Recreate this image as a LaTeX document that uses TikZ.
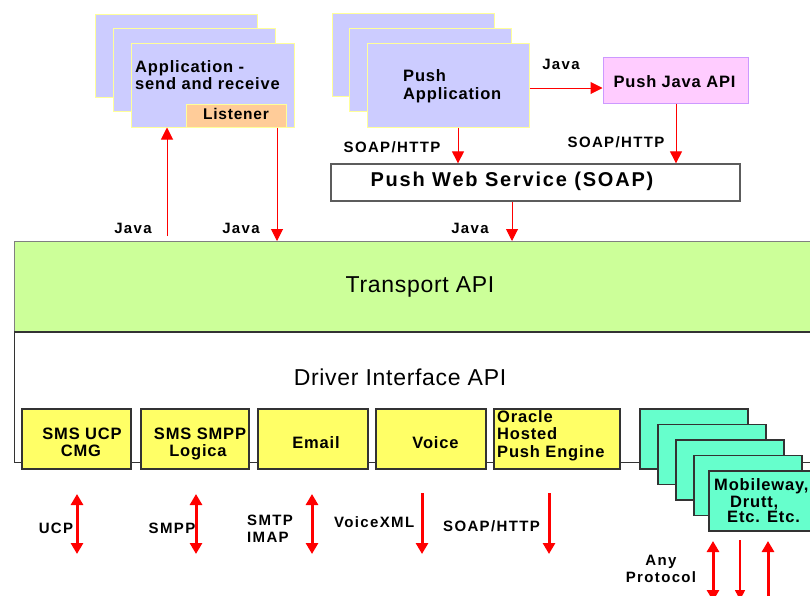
\documentclass[tikz,border=0pt]{standalone}
\usepackage{fontspec}
\setmainfont{Liberation Sans}
\newfontfamily\boxfont{Liberation Sans}[LetterSpace=5]
\newfontfamily\tagfont{Liberation Sans}[LetterSpace=9]
\newfontfamily\layerfont{Liberation Sans}[LetterSpace=3]
\newfontfamily\wsfont{Liberation Sans}[LetterSpace=9]
\usetikzlibrary{arrows.meta}
\definecolor{appfill}{HTML}{CCCCFF}
\definecolor{appedge}{HTML}{FFFF99}
\definecolor{listenfill}{HTML}{FFCC99}
\definecolor{apifill}{HTML}{FFCCFF}
\definecolor{apiedge}{HTML}{CC99FF}
\definecolor{transfill}{HTML}{CCFF99}
\definecolor{drvfill}{HTML}{FFFF66}
\definecolor{extfill}{HTML}{66FFCC}
\definecolor{edge}{HTML}{333333}
\definecolor{arrowred}{HTML}{FF0000}

\begin{document}
\begin{tikzpicture}[x=1pt,y=-1pt,
  appbox/.style={draw=appedge, fill=appfill, line width=1pt, minimum width=162pt, minimum height=83pt, inner sep=0pt},
  drvbox/.style={draw=edge, fill=drvfill, line width=1.3pt, minimum height=60pt, inner sep=0pt},
  extbox/.style={draw=edge, fill=extfill, line width=1.3pt, minimum width=108pt, minimum height=60pt, inner sep=0pt},
  boxtext/.style={font=\boxfont\bfseries\fontsize{16.5}{19}\selectfont, inner sep=0pt},
  tagtext/.style={font=\tagfont\bfseries\fontsize{15}{17}\selectfont, inner sep=0pt},
  layertext/.style={font=\layerfont\fontsize{23}{27}\selectfont, inner sep=0pt},
  link/.style={draw=arrowred, line width=1pt, -{Triangle[width=12pt,length=12pt]}},
  wire/.style={draw=arrowred, line width=3pt, -{Triangle[width=12pt,length=11pt]}},
  biwire/.style={wire, {Triangle[width=12pt,length=11pt]}-{Triangle[width=12pt,length=11pt]}},
]
\clip (0,0) rectangle (810,595);
\fill[white] (0,0) rectangle (810,595);

% ---- application (send and receive) stack
\node[appbox] (app1) at (176,55.5) {};
\node[appbox] (app2) at (194,70) {};
\node[appbox, minimum width=163pt, minimum height=84pt] (app3) at (212.5,85) {};
\node[draw=appedge, fill=listenfill, line width=1pt, minimum width=100pt, minimum height=23pt, inner sep=0pt] (listener) at (236,115.5) {};
\node[boxtext, anchor=base west] (apptxtA) at (135,72) {Application -};
\node[boxtext, anchor=base west] (apptxtB) at (135,89) {send and receive};
\node[boxtext, font=\boxfont\bfseries\fontsize{15.5}{18}\selectfont, anchor=base] (listentxt) at (236,119) {Listener};

% ---- push application stack
\node[appbox] (push1) at (413,55) {};
\node[appbox] (push2) at (430,70) {};
\node[appbox, minimum height=84pt] (push3) at (448,85) {};
\node[boxtext, anchor=base west] (pushtxtA) at (403,81) {Push};
\node[boxtext, anchor=base west] (pushtxtB) at (403,99) {Application};

% ---- push java api
\node[draw=apiedge, fill=apifill, line width=1pt, minimum width=145pt, minimum height=46pt, inner sep=0pt] (pjapi) at (675.5,80) {};
\node[boxtext, anchor=base] (pjapitxt) at (674.5,87) {Push Java API};

% ---- push web service
\node[draw=edge!80, fill=white, line width=1.3pt, minimum width=409pt, minimum height=37pt, inner sep=0pt] (pws) at (535.5,182.5) {};
\node[font=\wsfont\bfseries\fontsize{20}{24}\selectfont, anchor=base, inner sep=0pt] (pwstxt) at (512,186) {Push Web Service (SOAP)};

% ---- layers
\node[draw=edge, fill=white, line width=1.3pt, minimum width=830pt, minimum height=131pt, anchor=north west, inner sep=0pt] (driver) at (14,331) {};
\node[draw=gray, fill=transfill, line width=1pt, minimum width=830pt, minimum height=90pt, anchor=north west, inner sep=0pt] (transport) at (14,241) {};
\draw[edge, line width=2.2pt] (transport.south west) -- (transport.south east);
\node[layertext, anchor=base] (transtxt) at (420,292) {Transport API};
\node[layertext, anchor=base] (drvtxt) at (400,385) {Driver Interface API};

% ---- drivers
\node[drvbox, minimum width=109pt] (ucp) at (76.5,439) {};
\node[drvbox, minimum width=108pt] (smpp) at (195,439) {};
\node[drvbox, minimum width=110pt] (email) at (313,439) {};
\node[drvbox, minimum width=110pt] (voice) at (431,439) {};
\node[drvbox, minimum width=126pt] (oracle) at (557,439) {};
\node[boxtext, anchor=base] (ucptxtA) at (82,439) {SMS UCP};
\node[boxtext, anchor=base] (ucptxtB) at (81,456) {CMG};
\node[boxtext, anchor=base] (smpptxtA) at (200,439) {SMS SMPP};
\node[boxtext, anchor=base] (smpptxtB) at (198,456) {Logica};
\node[boxtext, anchor=base] (emailtxt) at (316,448) {Email};
\node[boxtext, anchor=base] (voicetxt) at (435.5,448) {Voice};
\node[boxtext, anchor=base west] (oratxtA) at (497,422) {Oracle};
\node[boxtext, anchor=base west] (oratxtB) at (497,439) {Hosted};
\node[boxtext, anchor=base west] (oratxtC) at (497,457) {Push Engine};

% ---- third party gateways stack
\node[extbox] (ext1) at (694,439) {};
\node[extbox] (ext2) at (712,454.5) {};
\node[extbox] (ext3) at (730,470) {};
\node[extbox] (ext4) at (748,485.5) {};
\node[extbox] (ext5) at (763,501) {};
\node[boxtext, anchor=base west] (exttxtA) at (714,490) {Mobileway,};
\node[boxtext, anchor=base west] (exttxtB) at (730,507) {Drutt,};
\node[boxtext, anchor=base west] (exttxtC) at (727,522) {Etc. Etc.};

% ---- upper connectors
\coordinate (gUp) at (167,236);
\coordinate (gDown) at (277,0);
\coordinate (gWs) at (512,0);
\coordinate (gPush) at (458,0);
\coordinate (gJava) at (0,88);
\coordinate (gApi) at (676,0);
\draw[link] (gUp) -- (gUp |- app3.south);
\draw[link] (app3.south -| gDown) -- (transport.north -| gDown);
\draw[link] (pws.south -| gWs) -- (transport.north -| gWs);
\draw[link] (push3.south -| gPush) -- (pws.north -| gPush);
\draw[link] (push3.east |- gJava) -- (pjapi.west |- gJava);
\draw[link] (pjapi.south -| gApi) -- (pws.north -| gApi);

\node[tagtext, anchor=base] (javaA) at (133,233) {Java};
\node[tagtext, anchor=base] (javaB) at (241,233) {Java};
\node[tagtext, anchor=base] (javaC) at (470,233) {Java};
\node[tagtext, anchor=base] (javaD) at (561,69) {Java};
\node[tagtext, anchor=base] (soapA) at (392,152) {SOAP/HTTP};
\node[tagtext, anchor=base] (soapB) at (616,147) {SOAP/HTTP};

% ---- protocol wires
\coordinate (ucpT) at (77,494);   \coordinate (ucpB) at (77,554);
\coordinate (smppT) at (196,494); \coordinate (smppB) at (196,554);
\coordinate (smtpT) at (312,494); \coordinate (smtpB) at (312,554);
\coordinate (vxT) at (422,493);   \coordinate (vxB) at (422,554);
\coordinate (shT) at (549,493);   \coordinate (shB) at (549,554);
\coordinate (anyA) at (713,541);  \coordinate (anyAB) at (713,601);
\coordinate (anyB) at (740,540);  \coordinate (anyBB) at (740,600);
\coordinate (anyC) at (768,541);  \coordinate (anyCB) at (768,603);
\draw[biwire] (ucpT) -- (ucpB);
\draw[biwire] (smppT) -- (smppB);
\draw[biwire] (smtpT) -- (smtpB);
\draw[wire] (vxT) -- (vxB);
\draw[wire] (shT) -- (shB);
\draw[biwire] (anyA) -- (anyAB);
\draw[draw=arrowred, line width=1.5pt, -{Triangle[width=10pt,length=10pt]}] (anyB) -- (anyBB);
\draw[wire] (anyCB) -- (anyC);

\node[tagtext, anchor=base] (ucplbl) at (56,533) {UCP};
\node[tagtext, anchor=base] (smpplbl) at (172,533) {SMPP};
\node[tagtext, anchor=base west] (smtplbl) at (247,525) {SMTP};
\node[tagtext, anchor=base west] (imaplbl) at (247,542) {IMAP};
\node[tagtext, anchor=base west] (vxlbl) at (334,527) {VoiceXML};
\node[tagtext, anchor=base west] (shlbl) at (443,531) {SOAP/HTTP};
\node[tagtext, anchor=base] (anylblA) at (661,565) {Any};
\node[tagtext, anchor=base] (anylblB) at (661,582) {Protocol};
\end{tikzpicture}
\end{document}
